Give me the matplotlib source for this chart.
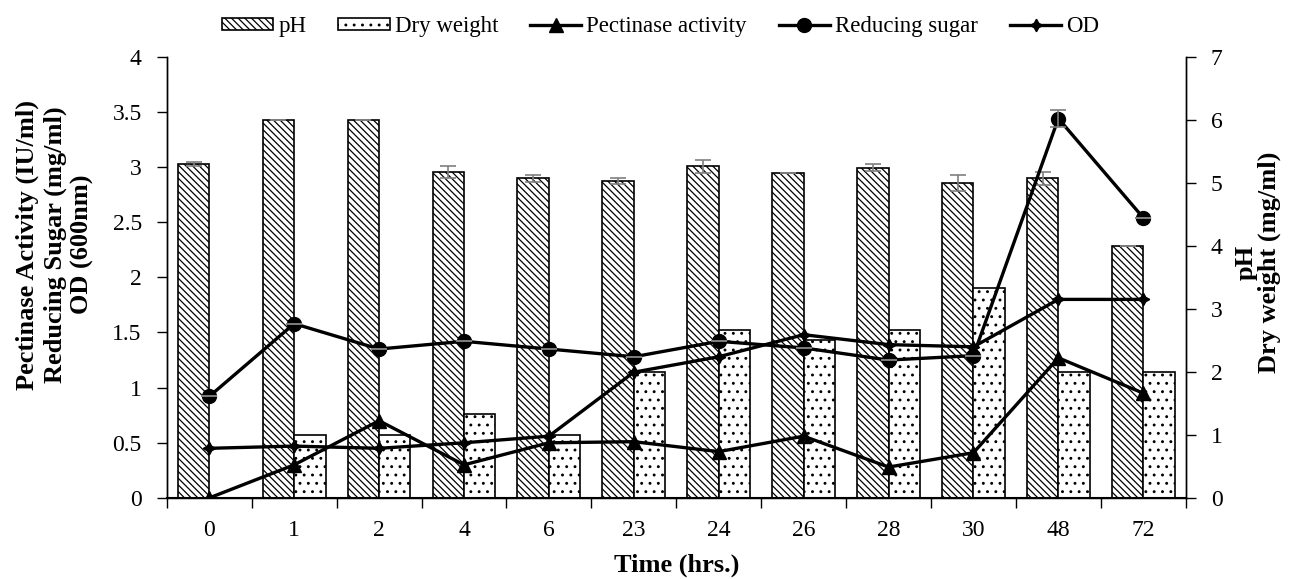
import matplotlib
matplotlib.use("Agg")
import matplotlib.pyplot as plt
import numpy as np

# ── data ──────────────────────────────────────────────────
time_labels = ["0", "1", "2", "4", "6", "23", "24", "26", "28", "30", "48", "72"]

ph        = [5.30, 6.00, 6.00, 5.17, 5.07, 5.03, 5.26, 5.15, 5.24, 5.00, 5.07, 4.00]
ph_err    = [0.03, 0.00, 0.00, 0.10, 0.05, 0.05, 0.10, 0.00, 0.06, 0.13, 0.10, 0.00]
dry_weight = [0.00, 1.00, 1.00, 1.33, 1.00, 2.00, 2.67, 2.50, 2.67, 3.33, 2.00, 2.00]
dry_err    = [0.00] * 12

pectinase = [0.00, 0.30, 0.70, 0.30, 0.50, 0.51, 0.42, 0.56, 0.28, 0.41, 1.27, 0.95]
sugar     = [0.92, 1.58, 1.35, 1.42, 1.35, 1.28, 1.42, 1.36, 1.25, 1.29, 3.44, 2.54]
sugar_err = [0.00, 0.00, 0.00, 0.00, 0.00, 0.00, 0.00, 0.00, 0.00, 0.00, 0.08, 0.00]
od        = [0.45, 0.47, 0.45, 0.50, 0.56, 1.14, 1.28, 1.48, 1.39, 1.37, 1.80, 1.80]

# ── style ─────────────────────────────────────────────────
plt.rcParams['font.family'] = ['Liberation Serif', 'DejaVu Serif']
plt.rcParams['hatch.linewidth'] = 0.9
plt.rcParams['axes.linewidth'] = 1.0
TICK_FS = 17
LAB_FS = 19
LEG_FS = 16.5

x = np.arange(len(time_labels))
bw = 0.37

fig = plt.figure(figsize=(13.03, 5.79), dpi=100)
ax = fig.add_axes([0.128, 0.140, 0.782, 0.762])   # left axis: lines
ax2 = ax.twinx()                                   # right axis: bars

# ── bars (pH, dry weight) on right axis ───────────────────
b_ph = ax2.bar(x - bw / 2, ph, bw, color='white', edgecolor='black',
               hatch='\\\\\\\\\\', linewidth=1.2, label='pH')
b_dw = ax2.bar(x + bw / 2, dry_weight, bw, color='white', edgecolor='black',
               hatch='..', linewidth=1.2, label='Dry weight')
ax2.errorbar(x - bw / 2, ph, yerr=ph_err, fmt='none', ecolor='#7f7f7f',
             elinewidth=1.2, capsize=6, capthick=1.2)
ax2.errorbar(x + bw / 2, dry_weight, yerr=dry_err, fmt='none', ecolor='#7f7f7f',
             elinewidth=1.2, capsize=0)

# ── lines on left axis ────────────────────────────────────
l_pa, = ax.plot(x, pectinase, color='black', lw=2.4, marker='^', ms=10,
                label='Pectinase activity')
l_rs, = ax.plot(x, sugar, color='black', lw=2.4, marker='o', ms=10,
                label='Reducing sugar')
ax.errorbar(x, sugar, yerr=sugar_err, fmt='none', ecolor='#7f7f7f',
            elinewidth=1.2, capsize=6, capthick=1.2)
l_od, = ax.plot(x, od, color='black', lw=2.4, marker=(4, 1, 0), ms=9,
                label='OD')

ax.set_zorder(ax2.get_zorder() + 1)
ax.patch.set_visible(False)

# ── axes ──────────────────────────────────────────────────
ax.set_xlim(-0.5, len(x) - 0.5)
ax.set_ylim(0, 4)
ax2.set_ylim(0, 7)
ax.set_yticks(np.arange(0, 4.01, 0.5))
ax.set_yticklabels(["0", "0.5", "1", "1.5", "2", "2.5", "3", "3.5", "4"])
ax2.set_yticks(range(0, 8))

ax.set_xticks(x)
ax.set_xticklabels(time_labels)
ax.set_xticks(np.arange(-0.5, len(x), 1), minor=True)
ax.tick_params(axis='x', which='major', length=0, pad=16, labelsize=TICK_FS)
ax.tick_params(axis='x', which='minor', length=7, direction='out', width=1)
ax.tick_params(axis='y', length=7, direction='out', width=1, labelsize=TICK_FS, pad=11)
ax2.tick_params(axis='y', length=7, direction='out', width=1, labelsize=TICK_FS, pad=11)

for a in (ax, ax2):
    a.spines['top'].set_visible(False)
ax.spines['bottom'].set_linewidth(1.5)

ax.set_xlabel("Time (hrs.)", fontsize=LAB_FS, fontweight='bold', labelpad=9)
ax.set_ylabel("Pectinase Activity (IU/ml)\nReducing Sugar (mg/ml)\nOD (600nm)",
              fontsize=LAB_FS, fontweight='bold', linespacing=1.25)
ax.yaxis.set_label_coords(-0.071, 0.574)
ax2.set_ylabel("pH\nDry weight (mg/ml)", fontsize=LAB_FS, fontweight='bold',
               linespacing=1.0)
ax2.yaxis.set_label_coords(1.048, 0.535)

# ── legend ────────────────────────────────────────────────
fig.legend([b_ph, b_dw, l_pa, l_rs, l_od],
           ['pH', 'Dry weight', 'Pectinase activity', 'Reducing sugar', 'OD'],
           loc='center', bbox_to_anchor=(0.507, 0.954), ncol=5,
           frameon=False, fontsize=LEG_FS, handlelength=2.23, handleheight=0.48,
           columnspacing=1.4, handletextpad=0.22, borderpad=0.2)

plt.savefig("out.png", dpi=100)
plt.close()
